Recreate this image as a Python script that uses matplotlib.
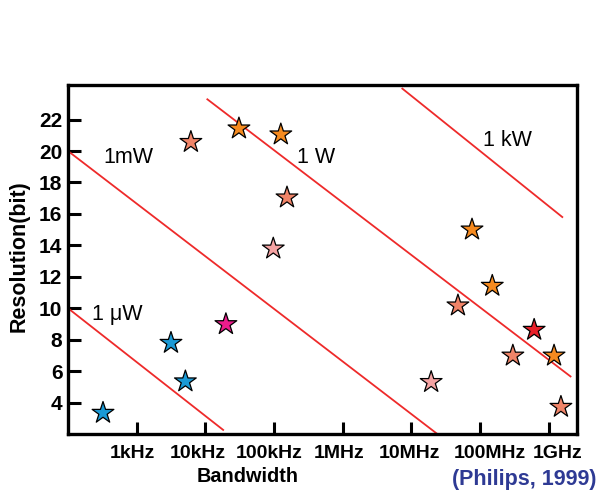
import matplotlib
matplotlib.use("Agg")
import matplotlib.pyplot as plt
import matplotlib.transforms as mtransforms
import numpy as np

plt.rcParams['font.family'] = ['Liberation Sans', 'DejaVu Sans']

# Data: log10(bandwidth in Hz), resolution in bits, colour
star_logf = [2.51, 3.50, 3.71, 4.30, 3.79, 4.49, 5.10, 5.19, 4.99,
             7.885, 8.18, 7.68, 8.79, 8.48, 9.08, 7.29, 9.18]
star_bits = [3.34, 7.79, 5.34, 8.98, 20.57, 21.43, 21.05, 17.04, 13.79,
             15.0, 11.42, 10.17, 8.62, 6.98, 6.98, 5.30, 3.72]
star_color = ['#1A9AD6', '#1A9AD6', '#1A9AD6', '#EC1C8C', '#F08468', '#F58A1F',
              '#F58A1F', '#F08468', '#F5A3A3', '#F58A1F', '#F58A1F', '#F08468',
              '#E8202A', '#F08468', '#F58A1F', '#F5A3A3', '#F08468']

# Power lines (endpoints)
line_labels = ['1 \u03bcW', '1mW', '1 W', '1 kW']
line_logf0 = [2.0, 2.0, 4.03, 6.87]
line_logf1 = [4.26, 7.38, 9.32, 9.20]
line_bits0 = [10.0, 20.0, 23.29, 23.97]
line_bits1 = [2.26, 2.0, 5.66, 15.8]
label_logf = [2.35, 2.51, 5.33, 8.04]
label_bits = [9.6, 19.6, 19.6, 20.68]

xtick_logf = [3, 4, 5, 6, 7, 8, 9]
xtick_labels = ['1kHz', '10kHz', '100kHz', '1MHz', '10MHz', '100MHz', '1GHz']
xtick_shift_px = [-4, -7, -5, -3, -2, 10, 9]
ytick_vals = [4, 6, 8, 10, 12, 14, 16, 18, 20, 22]

fig = plt.figure(figsize=(5.98, 4.93), dpi=100)
ax = fig.add_axes([0.1137, 0.1197, 0.8507, 0.7079])

for x0, x1, y0, y1 in zip(line_logf0, line_logf1, line_bits0, line_bits1):
    ax.plot([10**x0, 10**x1], [y0, y1], color='#EE2A2A', lw=1.3, zorder=2)
for lab, lx, ly in zip(line_labels, label_logf, label_bits):
    ax.text(10**lx, ly, lab, fontsize=15.5, ha='left', va='center', zorder=3)

ax.scatter([10**v for v in star_logf], star_bits, s=270, marker='*',
           c=star_color, edgecolors='black', linewidths=0.9, zorder=4)

ax.set_xscale('log')
ax.set_xlim(10**2.0, 10**9.41)
ax.set_ylim(2.0, 24.2)
ax.set_xticks([10**v for v in xtick_logf])
ax.set_xticklabels(xtick_labels)
ax.minorticks_off()
ax.set_yticks(ytick_vals)
ax.tick_params(direction='in', length=9, width=2.2, labelsize=15, pad=4)
ax.tick_params(axis='x', pad=8, labelsize=14)
for t in ax.get_xticklabels() + ax.get_yticklabels():
    t.set_fontweight('bold')
for t, dx in zip(ax.get_xticklabels(), xtick_shift_px):
    t.set_transform(t.get_transform() +
                    mtransforms.ScaledTranslation(dx / 100, 0, fig.dpi_scale_trans))
for sp in ax.spines.values():
    sp.set_linewidth(2.4)

fig.text(248 / 598, 1 - 477 / 493, 'Bandwidth', fontsize=14.3, fontweight='bold',
         ha='center', va='center')
fig.text(19 / 598, 1 - 256 / 493, 'Resolution(bit)', fontsize=15.5, fontweight='bold',
         ha='center', va='center', rotation=90)
fig.text(597 / 598, 1 - 480 / 493, '(Philips, 1999)', fontsize=15.5, fontweight='bold',
         ha='right', va='center', color='#2E3A94')

fig.savefig('out.png', dpi=100)
